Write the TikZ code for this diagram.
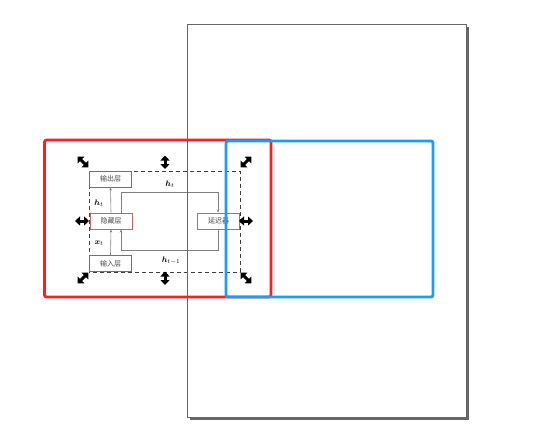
\documentclass[tikz,border=0pt]{standalone}
\usepackage{fontspec}
\newfontfamily\cjk{Noto Sans CJK SC}
\usepackage{amsmath,bm}
\usetikzlibrary{arrows.meta}
\definecolor{pagegray}{HTML}{666666}
\definecolor{selred}{HTML}{FF1E1E}
\definecolor{selblue}{HTML}{1A9CFF}
\definecolor{nodered}{HTML}{C86464}
\definecolor{nodeblue}{HTML}{4A78BC}
\definecolor{wiregray}{HTML}{808080}
\tikzset{
  layerbox/.style={draw=#1, line width=1pt, fill=white, minimum width=42pt, minimum height=16pt, inner sep=0pt, font=\cjk\fontsize{7}{8}\selectfont, text=black!70},
  wire/.style={draw=wiregray, line width=0.6pt},
  wirearr/.style={wire, -{Stealth[length=3pt,width=2.5pt]}},
  handle/.style={line width=3pt, {Triangle[length=5pt,width=9pt]}-{Triangle[length=5pt,width=9pt]}},
  lbl/.style={font=\fontsize{8}{9}\selectfont},
  selbox/.style={line width=2.8pt, rounded corners=2pt}
}
\begin{document}
\begin{tikzpicture}[x=1pt,y=-1pt]
\useasboundingbox (0,0) rectangle (537,447);
% page shadow
\fill[pagegray] (190,27) rectangle (468.5,420);
\fill[white] (187,24) rectangle (466,417);
% diagram
\draw[black!75, line width=0.7pt, dash pattern=on 4pt off 3pt] (89,171) rectangle (240,272);
\node[layerbox=nodeblue] (out) at (110.5,179) {输出层};
\node[layerbox=nodered] (hid) at (111,221) {隐藏层};
\node[layerbox=nodered] (del) at (218.5,221) {延迟器};
\node[layerbox=nodeblue] (in) at (110.5,263.5) {输入层};
\coordinate (c1) at (121,192);
\coordinate (c2) at (218,192);
\coordinate (c3) at (218,250);
\coordinate (c4) at (121,250);
\draw[wirearr] (in.north) -- (hid.south);
\draw[wirearr] (hid.north) -- (out.south);
\draw[wirearr] (hid.north -| c1) -- (c1) -- (c2) -- (del.north -| c2);
\draw[wirearr] (del.south -| c3) -- (c3) -- (c4) -- (hid.south -| c4);
\node[lbl] (l1) at (99,203) {$\bm{h}_t$};
\node[lbl] (l2) at (99,243) {$\bm{x}_t$};
\node[lbl] (l3) at (170,184) {$\bm{h}_t$};
\node[lbl] (l4) at (171,261) {$\bm{h}_{t-1}$};
% handles
\draw[handle] (77.5,156.5) -- (88.5,167.5);
\draw[handle] (251.5,156.5) -- (240.5,167.5);
\draw[handle] (77.5,283.5) -- (88.5,272.5);
\draw[handle] (251.5,283.5) -- (240.5,272.5);
\draw[handle] (165,155.5) -- (165,169);
\draw[handle] (165,271.5) -- (165,285);
\draw[handle] (75,221) -- (89,221);
\draw[handle] (239,221) -- (253,221);
% page border
\draw[pagegray, line width=1pt] (187,24) rectangle (466,417);
% selection boxes
\draw[selbox, selred] (44.5,140) rectangle (271,297);
\draw[selbox, selblue] (226,141) rectangle (433,297);
\end{tikzpicture}
\end{document}
